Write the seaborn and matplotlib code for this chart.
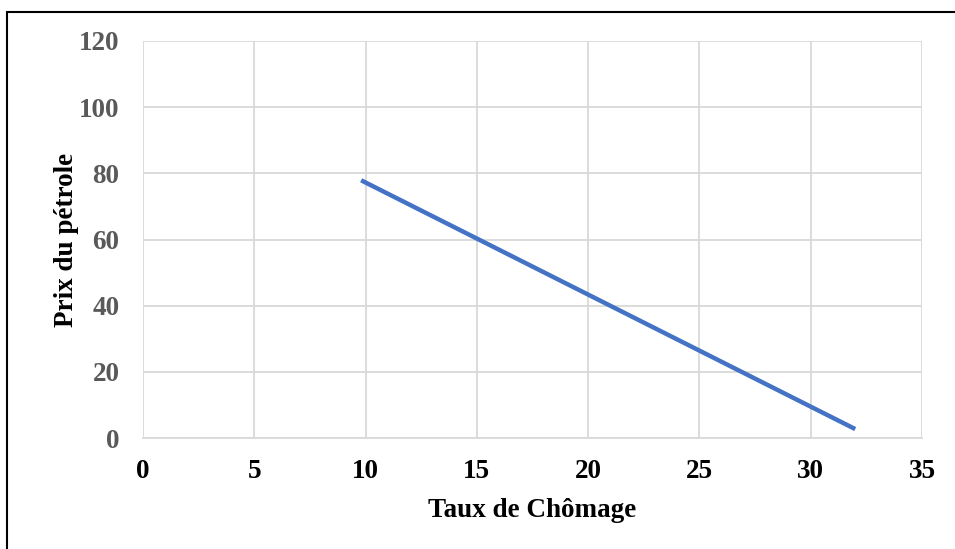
import matplotlib
matplotlib.use("Agg")
import matplotlib.pyplot as plt
from matplotlib.lines import Line2D
import seaborn as sns
import pandas as pd

# Data
taux_chomage = [9.8, 32.0]
prix_petrole = [77.9, 2.7]
x_ticks = [0, 5, 10, 15, 20, 25, 30, 35]
y_ticks = [0, 20, 40, 60, 80, 100, 120]

sns.set_theme(style="white")
plt.rcParams['font.family'] = ['Liberation Serif', 'DejaVu Serif']

df = pd.DataFrame({"Taux de Chômage": taux_chomage, "Prix du pétrole": prix_petrole})

fig = plt.figure(figsize=(9.55, 5.49), dpi=100)
ax = fig.add_axes([143/955, 1-438/549, (922-143)/955, (438-41)/549])

sns.lineplot(data=df, x="Taux de Chômage", y="Prix du pétrole", ax=ax,
             color="#4472C4", linewidth=3.2, solid_capstyle="butt")

ax.set_xlim(0, 35)
ax.set_ylim(0, 120)
ax.set_xticks(x_ticks)
ax.set_yticks(y_ticks)
ax.grid(True, color="#D9D9D9", linewidth=1.3)
ax.set_axisbelow(True)
for s in ["top", "right", "left"]:
    ax.spines[s].set_visible(False)
ax.spines["bottom"].set_color("#D9D9D9")
ax.spines["bottom"].set_linewidth(1.3)
ax.tick_params(axis="both", length=0)
ax.tick_params(axis="x", pad=15, labelsize=19.5, labelcolor="black")
ax.tick_params(axis="y", pad=17, labelsize=19.5, labelcolor="#595959")
for lab in ax.get_xticklabels() + ax.get_yticklabels():
    lab.set_fontweight("bold")

ax.set_xlabel("Taux de Chômage", fontsize=19.5, fontweight="bold", color="black", labelpad=10)
ax.set_ylabel("Prix du pétrole", fontsize=19.5, fontweight="bold", color="black", labelpad=0)

# Partial frame (top and left border)
fig.add_artist(Line2D([7/955, 1.0], [1-12/549, 1-12/549], transform=fig.transFigure, color="black", linewidth=1.5))
fig.add_artist(Line2D([7/955, 7/955], [0, 1-12/549], transform=fig.transFigure, color="black", linewidth=1.5))

fig.savefig("out.png", dpi=100)
